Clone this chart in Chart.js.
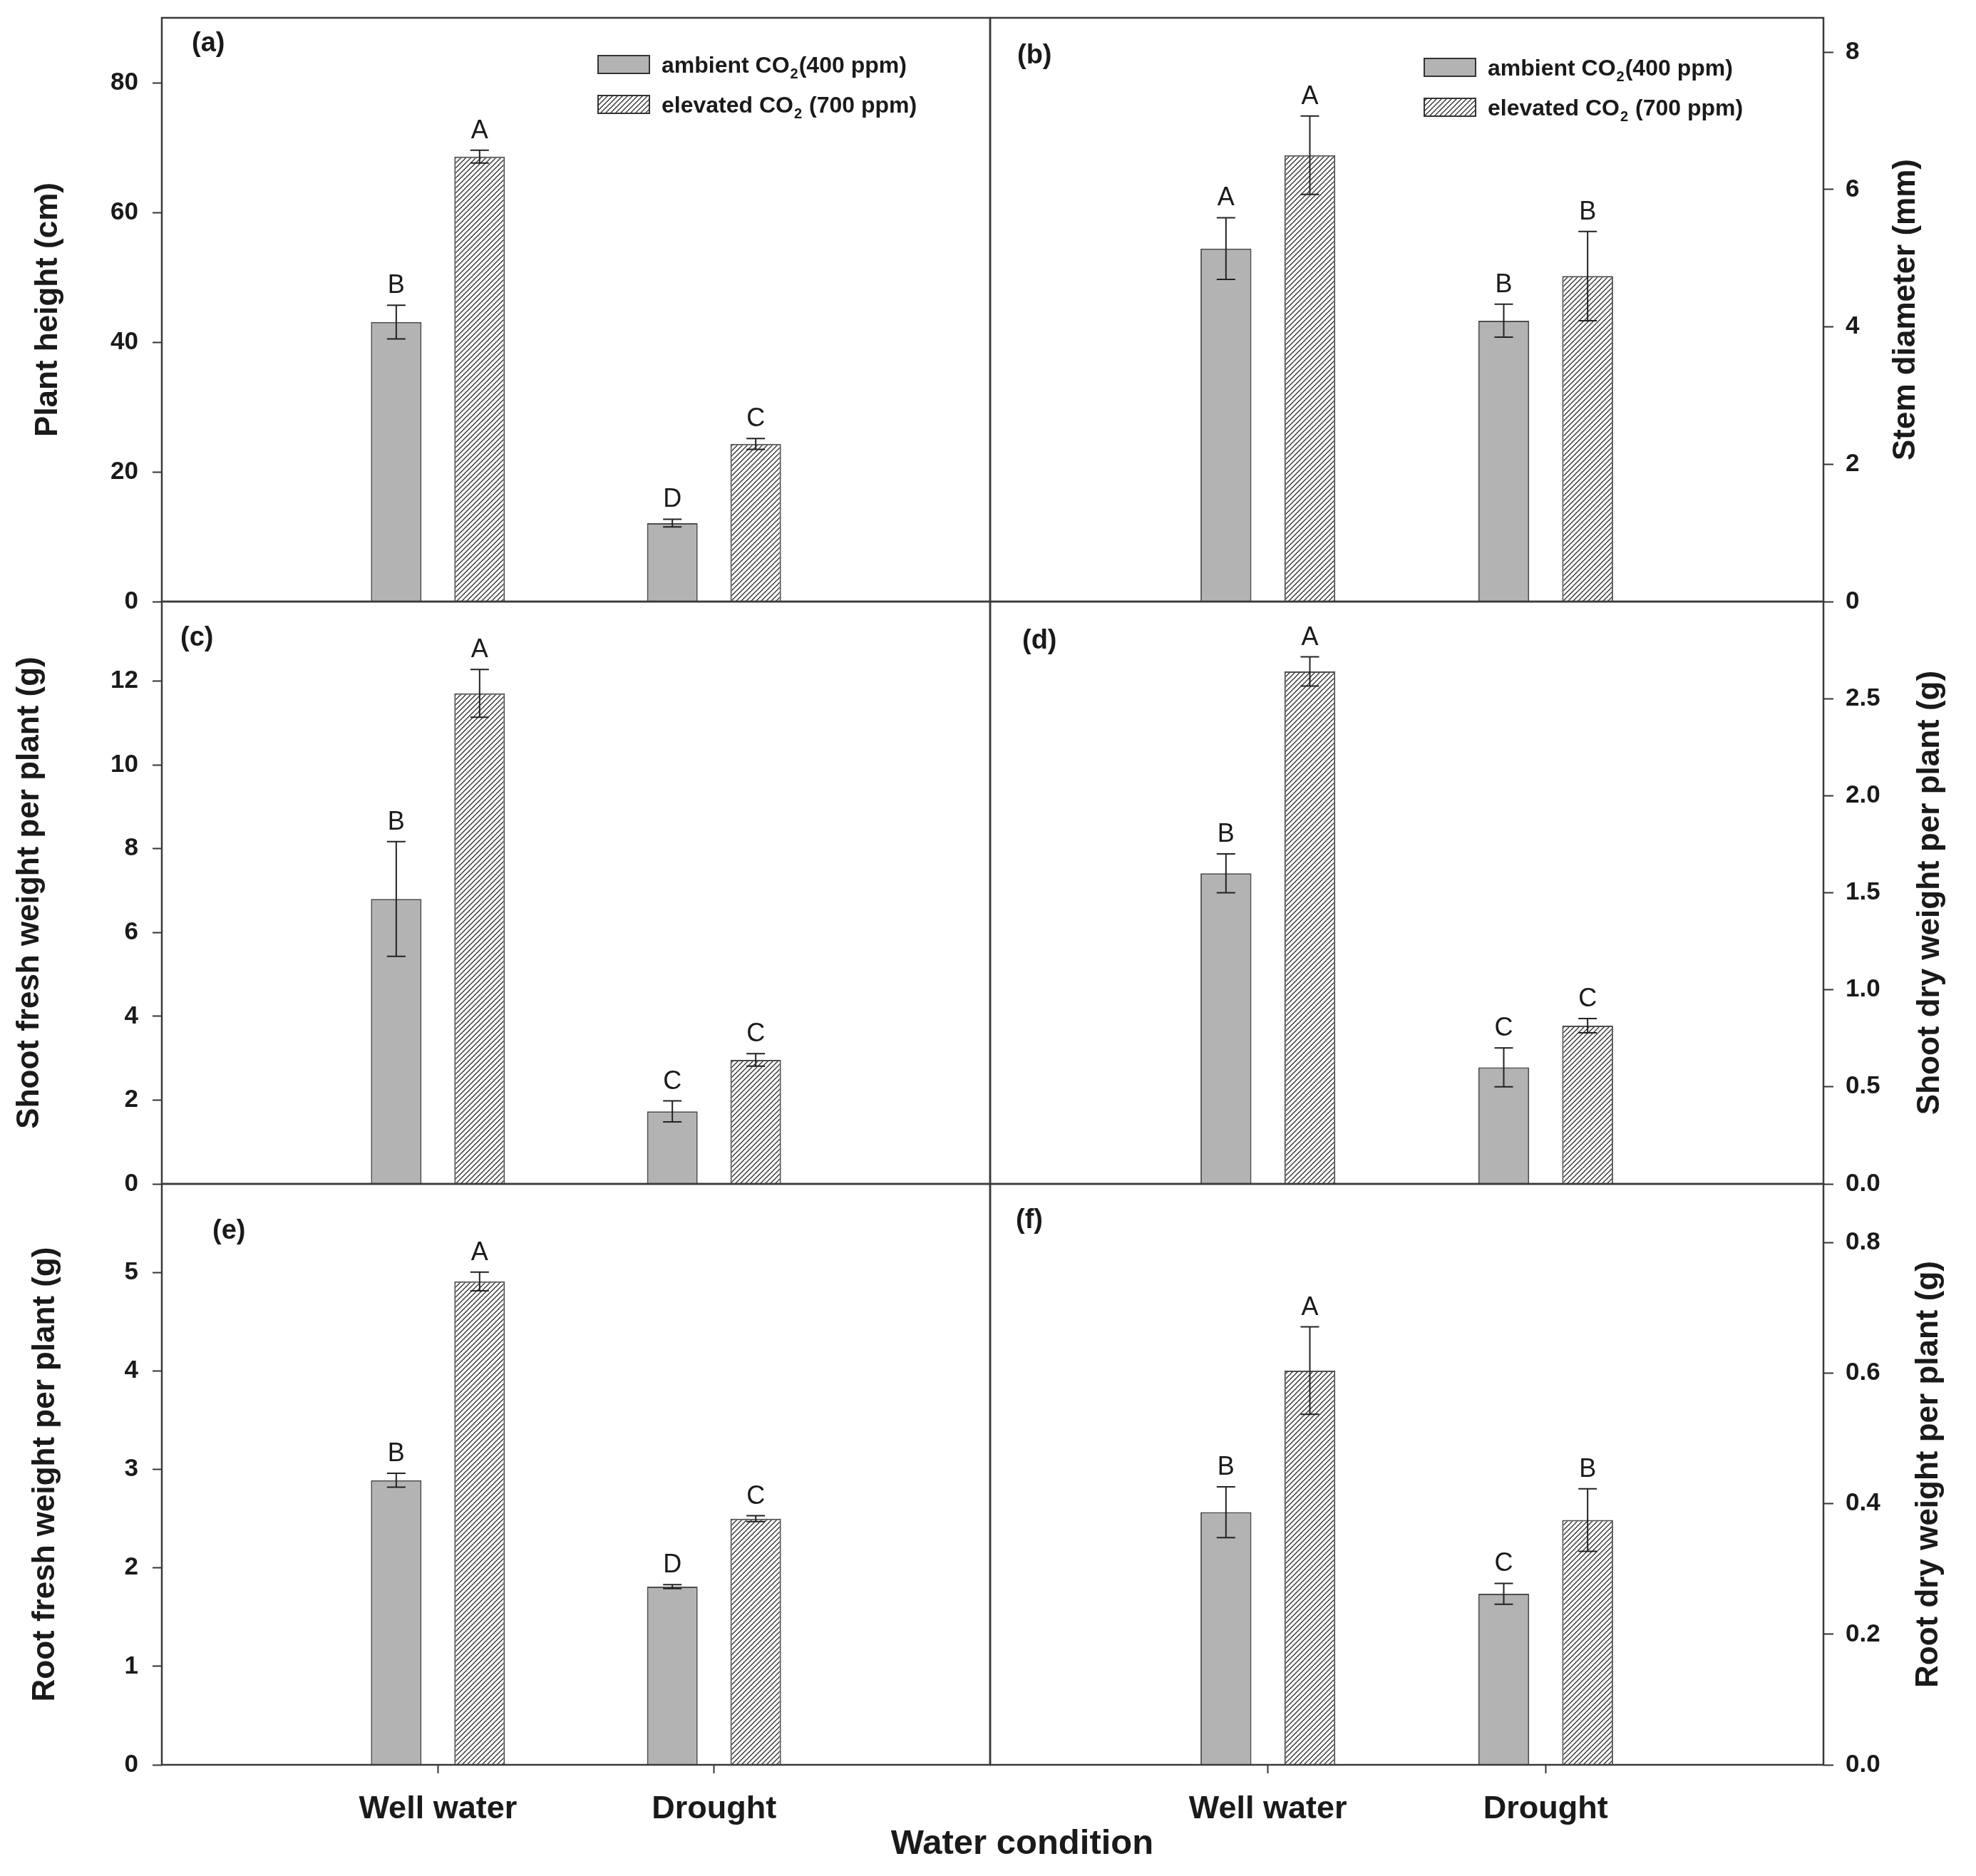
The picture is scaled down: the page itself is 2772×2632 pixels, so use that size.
<!DOCTYPE html>
<html>
<head>
<meta charset="utf-8">
<script src="https://cdn.jsdelivr.net/npm/chart.js@4.4.1/dist/chart.umd.min.js"></script>
<style>
  html, body { margin: 0; padding: 0; background: #fff; }
  body { width: 2772px; height: 2632px; position: relative; overflow: hidden; }
  canvas { position: absolute; }
  #xtitle {
    position: absolute; left: 1434px; top: 2560px; transform: translateX(-50%);
    font: bold 49px/49px "Liberation Sans", Arial, sans-serif; color: #1a1a1a; white-space: nowrap;
  }
</style>
</head>
<body>
<canvas id="pa" width="1401" height="858" style="left:0px;top:0px"></canvas>
<canvas id="pb" width="1395" height="858" style="left:1377px;top:0px"></canvas>
<canvas id="pc" width="1401" height="845" style="left:0px;top:830px"></canvas>
<canvas id="pd" width="1395" height="845" style="left:1377px;top:830px"></canvas>
<canvas id="pe" width="1401" height="985" style="left:0px;top:1647px"></canvas>
<canvas id="pf" width="1395" height="985" style="left:1377px;top:1647px"></canvas>
<div id="xtitle">Water condition</div>
<script>
// Data
const categories = ['Well water', 'Drought'];
const legendAmbient = ['ambient CO', '2', '(400 ppm)'];
const legendElevated = ['elevated CO', '2', ' (700 ppm)'];

// (a) plant height
const heightTicks = [0, 20, 40, 60, 80];
const heightAmbient = [43.1, 12.1];
const heightAmbientErr = [2.6, 0.6];
const heightElevated = [68.6, 24.3];
const heightElevatedErr = [1.0, 0.85];
const heightAmbientLetters = ['B', 'D'];
const heightElevatedLetters = ['A', 'C'];

// (b) stem diameter
const stemTicks = [0, 2, 4, 6, 8];
const stemAmbient = [5.14, 4.09];
const stemAmbientErr = [0.45, 0.24];
const stemElevated = [6.50, 4.74];
const stemElevatedErr = [0.57, 0.65];
const stemAmbientLetters = ['A', 'B'];
const stemElevatedLetters = ['A', 'B'];

// (c) shoot fresh weight
const shootFreshTicks = [0, 2, 4, 6, 8, 10, 12];
const shootFreshAmbient = [6.80, 1.73];
const shootFreshAmbientErr = [1.37, 0.25];
const shootFreshElevated = [11.71, 2.96];
const shootFreshElevatedErr = [0.57, 0.15];
const shootFreshAmbientLetters = ['B', 'C'];
const shootFreshElevatedLetters = ['A', 'C'];

// (d) shoot dry weight
const shootDryTicks = [0, 0.5, 1.0, 1.5, 2.0, 2.5];
const shootDryAmbient = [1.60, 0.60];
const shootDryAmbientErr = [0.10, 0.10];
const shootDryElevated = [2.64, 0.815];
const shootDryElevatedErr = [0.075, 0.037];
const shootDryAmbientLetters = ['B', 'C'];
const shootDryElevatedLetters = ['A', 'C'];

// (e) root fresh weight
const rootFreshTicks = [0, 1, 2, 3, 4, 5];
const rootFreshAmbient = [2.89, 1.81];
const rootFreshAmbientErr = [0.07, 0.02];
const rootFreshElevated = [4.91, 2.50];
const rootFreshElevatedErr = [0.095, 0.03];
const rootFreshAmbientLetters = ['B', 'D'];
const rootFreshElevatedLetters = ['A', 'C'];

// (f) root dry weight
const rootDryTicks = [0, 0.2, 0.4, 0.6, 0.8];
const rootDryAmbient = [0.387, 0.262];
const rootDryAmbientErr = [0.039, 0.016];
const rootDryElevated = [0.604, 0.375];
const rootDryElevatedErr = [0.067, 0.048];
const rootDryAmbientLetters = ['B', 'C'];
const rootDryElevatedLetters = ['A', 'B'];

const FONT = '"Liberation Sans", Arial, sans-serif';
const INK = '#1a1a1a';
Chart.defaults.font.family = FONT;

// empty slot on each side so the two groups sit at 1/3 and 2/3
const pad = arr => [null, ...arr, null];

function makeHatch() {
  const s = 7;
  const c = document.createElement('canvas');
  c.width = s; c.height = s;
  const g = c.getContext('2d');
  g.fillStyle = '#fff';
  g.fillRect(0, 0, s, s);
  g.strokeStyle = '#2e2e2e';
  g.lineWidth = 1.3;
  g.beginPath();
  g.moveTo(-1, s + 1); g.lineTo(s + 1, -1);
  g.moveTo(-1, 1); g.lineTo(1, -1);
  g.moveTo(s - 1, s + 1); g.lineTo(s + 1, s - 1);
  g.stroke();
  return g.createPattern(c, 'repeat');
}
const hatch = makeHatch();
const gray = '#b3b3b3';

function drawLegendText(ctx, parts, x, y) {
  ctx.textAlign = 'left';
  ctx.textBaseline = 'alphabetic';
  ctx.font = 'bold 32px ' + FONT;
  ctx.fillText(parts[0], x, y);
  x += ctx.measureText(parts[0]).width;
  ctx.font = 'bold 20px ' + FONT;
  ctx.fillText(parts[1], x + 1, y + 8);
  x += ctx.measureText(parts[1]).width + 2;
  ctx.font = 'bold 32px ' + FONT;
  ctx.fillText(parts[2], x, y);
}

const decor = {
  id: 'decor',
  afterDatasetsDraw(chart) {
    const o = chart.options.plugins.decor;
    const ctx = chart.ctx, a = chart.chartArea, y = chart.scales.y;
    ctx.save();

    // error bars and letters
    chart.data.datasets.forEach((ds, i) => {
      chart.getDatasetMeta(i).data.forEach((bar, j) => {
        const v = ds.data[j];
        if (v == null) return;
        const e = ds.errors[j];
        const top = y.getPixelForValue(v + e);
        const bot = y.getPixelForValue(v - e);
        ctx.strokeStyle = '#222';
        ctx.lineWidth = 2;
        ctx.beginPath();
        ctx.moveTo(bar.x, top); ctx.lineTo(bar.x, bot);
        ctx.moveTo(bar.x - 13, top); ctx.lineTo(bar.x + 13, top);
        ctx.moveTo(bar.x - 13, bot); ctx.lineTo(bar.x + 13, bot);
        ctx.stroke();
        ctx.fillStyle = INK;
        ctx.font = '36px ' + FONT;
        ctx.textAlign = 'center';
        ctx.textBaseline = 'alphabetic';
        ctx.fillText(ds.letters[j], bar.x, top - 17);
      });
    });

    // panel frame
    ctx.strokeStyle = '#3a3a3a';
    ctx.lineWidth = 2.5;
    ctx.strokeRect(a.left, a.top, a.right - a.left, a.bottom - a.top);

    // panel tag
    ctx.fillStyle = INK;
    ctx.font = 'bold 38px ' + FONT;
    ctx.textAlign = 'left';
    ctx.textBaseline = 'middle';
    ctx.fillText(o.tag, o.tagX - o.left, o.tagY - o.top);

    // legend
    if (o.legend) {
      const lx = o.legendX - o.left, ly = o.legendY - o.top;
      [legendAmbient, legendElevated].forEach((parts, r) => {
        const sy = ly + r * 56;
        ctx.fillStyle = chart.data.datasets[r].backgroundColor;
        ctx.fillRect(lx, sy, 72, 25);
        ctx.strokeStyle = '#333';
        ctx.lineWidth = 2;
        ctx.strokeRect(lx, sy, 72, 25);
        ctx.fillStyle = INK;
        drawLegendText(ctx, parts, lx + 89, sy + 24);
      });
    }

    // axis title, reading bottom to top
    ctx.translate(o.titleX - o.left, (a.top + a.bottom) / 2);
    ctx.rotate(-Math.PI / 2);
    ctx.fillStyle = INK;
    ctx.font = 'bold 44px ' + FONT;
    ctx.textAlign = 'center';
    ctx.textBaseline = 'alphabetic';
    ctx.fillText(o.title, 0, 0);
    ctx.restore();
  }
};

function makePanel(id, p) {
  const right = p.side === 'right';
  return new Chart(document.getElementById(id), {
    type: 'bar',
    data: {
      labels: pad(categories).map(c => c || ''),
      datasets: [
        {
          label: legendAmbient.join(''),
          data: pad(p.amb), errors: pad(p.ambErr), letters: pad(p.ambLetters),
          backgroundColor: gray, borderColor: '#4d4d4d', borderWidth: 2,
          categoryPercentage: 0.604, barPercentage: 0.607
        },
        {
          label: legendElevated.join(''),
          data: pad(p.elev), errors: pad(p.elevErr), letters: pad(p.elevLetters),
          backgroundColor: hatch, borderColor: '#4d4d4d', borderWidth: 2,
          categoryPercentage: 0.604, barPercentage: 0.607
        }
      ]
    },
    options: {
      responsive: false,
      animation: false,
      devicePixelRatio: 1,
      events: [],
      layout: { padding: p.padding },
      plugins: {
        legend: { display: false },
        tooltip: { enabled: false },
        decor: p
      },
      scales: {
        x: {
          display: p.showX,
          offset: false,
          afterBuildTicks: s => { s.ticks = s.ticks.filter(t => t.value === 1 || t.value === 2); },
          afterFit: s => {
            s.height = p.showX ? 156 : 0;
            s.paddingLeft = 0; s.paddingRight = 0; s.paddingTop = 0; s.paddingBottom = 0;
          },
          grid: { offset: false, drawOnChartArea: false, tickLength: 12, tickWidth: 2, tickColor: '#333' },
          border: { display: false },
          ticks: {
            autoSkip: false, maxRotation: 0, padding: 24, color: INK,
            font: { size: 45, weight: 'bold' }
          }
        },
        y: {
          position: right ? 'right' : 'left',
          min: 0,
          max: p.max,
          afterFit: s => {
            s.width = right ? 214 : 227;
            s.paddingLeft = 0; s.paddingRight = 0; s.paddingTop = 0; s.paddingBottom = 0;
          },
          afterBuildTicks: s => { s.ticks = p.ticks.map(v => ({ value: v })); },
          grid: {
            drawOnChartArea: false, tickLength: right ? 14 : 13, tickWidth: 2, tickColor: '#333'
          },
          border: { display: false },
          ticks: {
            padding: right ? 17 : 20, color: INK,
            font: { size: 35, weight: 'bold' },
            callback: v => Number(v).toFixed(p.dec)
          }
        }
      }
    },
    plugins: [decor]
  });
}

makePanel('pa', {
  side: 'left', left: 0, top: 0, padding: { top: 25, bottom: 14, right: 12, left: 0 }, showX: false,
  max: 90, ticks: heightTicks, dec: 0,
  amb: heightAmbient, ambErr: heightAmbientErr, ambLetters: heightAmbientLetters,
  elev: heightElevated, elevErr: heightElevatedErr, elevLetters: heightElevatedLetters,
  tag: '(a)', tagX: 269, tagY: 62, legend: true, legendX: 839, legendY: 78,
  title: 'Plant height (cm)', titleX: 80
});
makePanel('pb', {
  side: 'right', left: 1377, top: 0, padding: { top: 25, bottom: 14, left: 12, right: 0 }, showX: false,
  max: 8.5, ticks: stemTicks, dec: 0,
  amb: stemAmbient, ambErr: stemAmbientErr, ambLetters: stemAmbientLetters,
  elev: stemElevated, elevErr: stemElevatedErr, elevLetters: stemElevatedLetters,
  tag: '(b)', tagX: 1427, tagY: 79, legend: true, legendX: 1998, legendY: 82,
  title: 'Stem diameter (mm)', titleX: 2686
});
makePanel('pc', {
  side: 'left', left: 0, top: 830, padding: { top: 14, bottom: 14, right: 12, left: 0 }, showX: false,
  max: 13.9, ticks: shootFreshTicks, dec: 0,
  amb: shootFreshAmbient, ambErr: shootFreshAmbientErr, ambLetters: shootFreshAmbientLetters,
  elev: shootFreshElevated, elevErr: shootFreshElevatedErr, elevLetters: shootFreshElevatedLetters,
  tag: '(c)', tagX: 253, tagY: 896, legend: false,
  title: 'Shoot fresh weight per plant (g)', titleX: 54
});
makePanel('pd', {
  side: 'right', left: 1377, top: 830, padding: { top: 14, bottom: 14, left: 12, right: 0 }, showX: false,
  max: 3.0, ticks: shootDryTicks, dec: 1,
  amb: shootDryAmbient, ambErr: shootDryAmbientErr, ambLetters: shootDryAmbientLetters,
  elev: shootDryElevated, elevErr: shootDryElevatedErr, elevLetters: shootDryElevatedLetters,
  tag: '(d)', tagX: 1434, tagY: 900, legend: false,
  title: 'Shoot dry weight per plant (g)', titleX: 2720
});
makePanel('pe', {
  side: 'left', left: 0, top: 1647, padding: { top: 14, bottom: 0, right: 12, left: 0 }, showX: true,
  max: 5.9, ticks: rootFreshTicks, dec: 0,
  amb: rootFreshAmbient, ambErr: rootFreshAmbientErr, ambLetters: rootFreshAmbientLetters,
  elev: rootFreshElevated, elevErr: rootFreshElevatedErr, elevLetters: rootFreshElevatedLetters,
  tag: '(e)', tagX: 298, tagY: 1728, legend: false,
  title: 'Root fresh weight per plant (g)', titleX: 76
});
makePanel('pf', {
  side: 'right', left: 1377, top: 1647, padding: { top: 14, bottom: 0, left: 12, right: 0 }, showX: true,
  max: 0.89, ticks: rootDryTicks, dec: 1,
  amb: rootDryAmbient, ambErr: rootDryAmbientErr, ambLetters: rootDryAmbientLetters,
  elev: rootDryElevated, elevErr: rootDryElevatedErr, elevLetters: rootDryElevatedLetters,
  tag: '(f)', tagX: 1425, tagY: 1713, legend: false,
  title: 'Root dry weight per plant (g)', titleX: 2718
});
</script>
</body>
</html>
